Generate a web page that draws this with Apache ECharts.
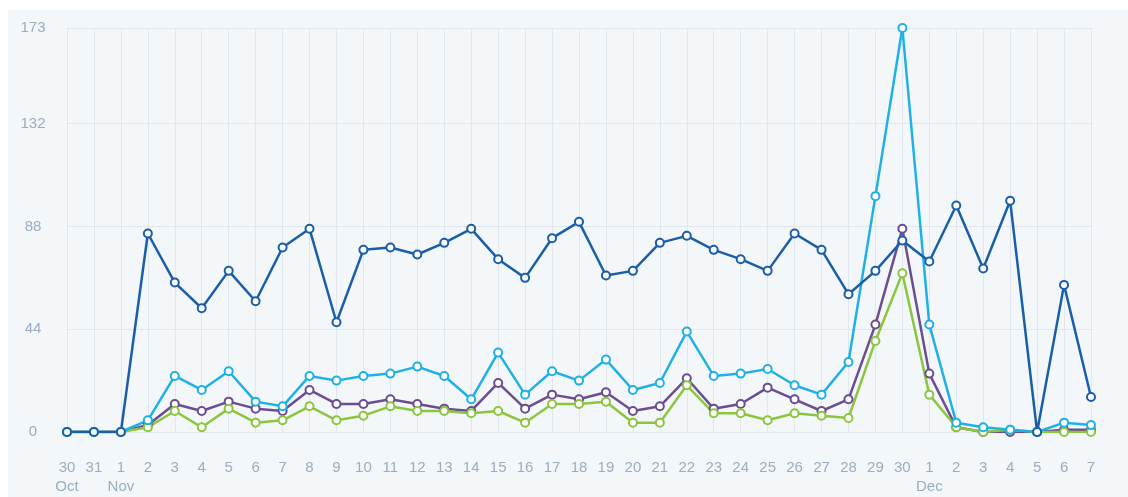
<!DOCTYPE html>
<html>
<head>
<meta charset="utf-8">
<script src="https://cdn.jsdelivr.net/npm/echarts@6/dist/echarts.min.js"></script>
<style>
    html, body { margin: 0; padding: 0; background: #fff; }
    #chart { position: absolute; left: 8px; top: 10px; width: 1120px; height: 487px; }
</style>
</head>
<body>
<div id="chart"></div>
<script>
// x 轴：日期和月份
var days = ['30', '31', '1', '2', '3', '4', '5', '6', '7', '8', '9', '10', '11', '12', '13', '14', '15',
    '16', '17', '18', '19', '20', '21', '22', '23', '24', '25', '26', '27', '28', '29', '30',
    '1', '2', '3', '4', '5', '6', '7'];
var months = ['Oct', '', 'Nov', '', '', '', '', '', '', '', '', '', '', '', '', '', '',
    '', '', '', '', '', '', '', '', '', '', '', '', '', '', '',
    'Dec', '', '', '', '', '', ''];

// y 轴刻度
var yTicks = [0, 44, 88, 132, 173];

// 四条折线的数据
var darkBlue = [0, 0, 0, 85, 64, 53, 69, 56, 79, 87, 47, 78, 79, 76, 81, 87, 74,
    66, 83, 90, 67, 69, 81, 84, 78, 74, 69, 85, 78, 59, 69, 82,
    73, 97, 70, 99, 0, 63, 15];
var lightBlue = [0, 0, 0, 5, 24, 18, 26, 13, 11, 24, 22, 24, 25, 28, 24, 14, 34,
    16, 26, 22, 31, 18, 21, 43, 24, 25, 27, 20, 16, 30, 101, 173,
    46, 4, 2, 1, 0, 4, 3];
var purple = [0, 0, 0, 3, 12, 9, 13, 10, 9, 18, 12, 12, 14, 12, 10, 9, 21,
    10, 16, 14, 17, 9, 11, 23, 10, 12, 19, 14, 9, 14, 46, 87,
    25, 2, 0, 0, 0, 1, 1];
var green = [0, 0, 0, 2, 9, 2, 10, 4, 5, 11, 5, 7, 11, 9, 9, 8, 9,
    4, 12, 12, 13, 4, 4, 20, 8, 8, 5, 8, 7, 6, 39, 68,
    16, 2, 0, 1, 0, 0, 0];

var categories = days.map(function (d, i) {
    return months[i] ? d + '\n' + months[i] : d;
});

var myChart = echarts.init(document.getElementById('chart'));

var gridColor = '#e1e7ed';
var textColor = '#9badc0';

function makeLine(data, color) {
    return {
        type: 'line',
        data: data,
        symbol: 'emptyCircle',
        symbolSize: 8,
        showAllSymbol: true,
        lineStyle: { color: color, width: 2.5 },
        itemStyle: { color: color, borderColor: color, borderWidth: 3 },
        emphasis: { disabled: true }
    };
}

var option = {
    backgroundColor: '#f4f7fa',
    animation: false,
    grid: { left: 59, right: 37, top: 18, bottom: 65 },
    xAxis: {
        type: 'category',
        data: categories,
        boundaryGap: false,
        axisLine: { show: false },
        axisTick: { show: false },
        splitLine: { show: true, lineStyle: { color: gridColor, width: 1 } },
        axisLabel: {
            interval: 0,
            margin: 26,
            color: textColor,
            fontSize: 15,
            lineHeight: 19,
            fontFamily: 'Liberation Sans, Arial, sans-serif'
        }
    },
    yAxis: {
        type: 'value',
        min: yTicks[0],
        max: yTicks[yTicks.length - 1],
        interval: 44,
        axisLine: { show: false },
        axisTick: { show: false },
        splitLine: { lineStyle: { color: gridColor, width: 1 } },
        axisLabel: {
            align: 'center',
            margin: 34,
            color: textColor,
            fontSize: 15,
            fontFamily: 'Liberation Sans, Arial, sans-serif'
        }
    },
    series: [
        makeLine(purple, '#6b4d92'),
        makeLine(green, '#8cc63f'),
        makeLine(lightBlue, '#1fb1e6'),
        makeLine(darkBlue, '#1b5ea8')
    ]
};

myChart.setOption(option);
</script>
</body>
</html>
